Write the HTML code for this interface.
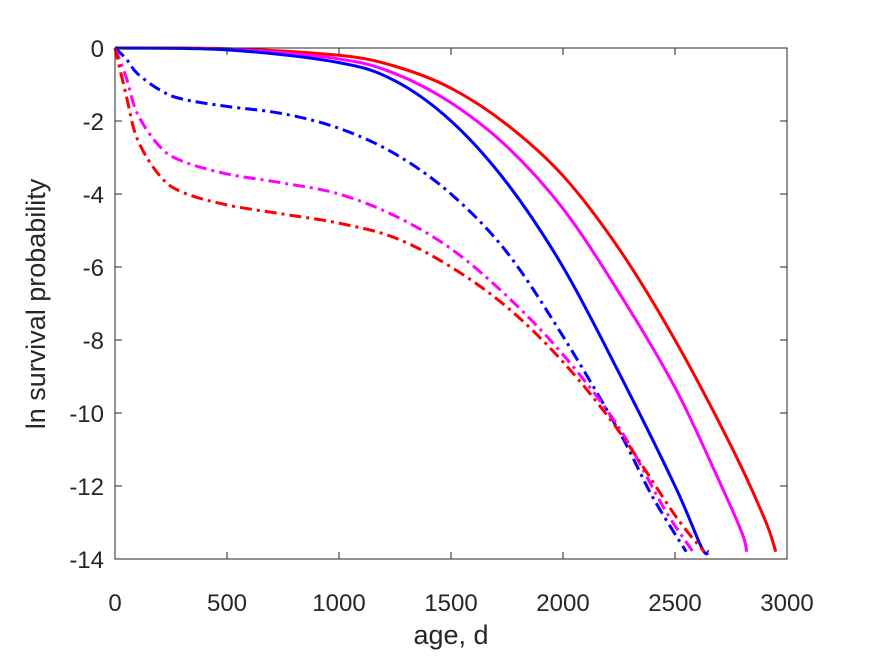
<!DOCTYPE html>
<html><head><meta charset="utf-8"><style>
body{margin:0;background:#fff;}
svg{font-family:"Liberation Sans",sans-serif;}
</style></head><body>
<svg id="chart" width="875" height="656">
<rect width="875" height="656" fill="#fff"/>
<g id="marks"></g>
<g id="axes"></g>
</svg>
<script>
const xTicks=[0,500,1000,1500,2000,2500,3000];
const yTicks=[0,-2,-4,-6,-8,-10,-12,-14];
const redSolidX=[0,500,1000,1250,1500,1750,2000,2250,2500,2750,2900,2950];
const redSolidY=[0,-0.02,-0.2,-0.5,-1.1,-2.1,-3.5,-5.5,-8.0,-10.9,-12.9,-13.8];
const magSolidX=[0,500,1000,1250,1500,1750,2000,2250,2500,2700,2800,2820];
const magSolidY=[0,-0.03,-0.3,-0.7,-1.5,-2.7,-4.4,-6.7,-9.3,-11.9,-13.3,-13.8];
const blueSolidX=[0,500,1000,1250,1500,1750,2000,2250,2500,2620,2650];
const blueSolidY=[0,-0.05,-0.4,-0.9,-2.0,-3.7,-6.0,-8.9,-12.0,-13.7,-13.8];
const blueDashX=[0,50,100,200,300,500,750,1000,1250,1500,1750,2000,2250,2400,2550];
const blueDashY=[0,-0.3,-0.7,-1.15,-1.4,-1.6,-1.8,-2.2,-2.9,-4.0,-5.6,-7.9,-10.5,-12.3,-13.8];
const magDashX=[0,50,100,200,300,500,750,1000,1250,1500,1750,2000,2250,2450,2580];
const magDashY=[0,-0.8,-1.8,-2.7,-3.1,-3.45,-3.7,-4.0,-4.6,-5.5,-6.8,-8.4,-10.4,-12.6,-13.8];
const redDashX=[0,50,100,200,300,500,750,1000,1250,1500,1750,2000,2250,2500,2630];
const redDashY=[0,-1.3,-2.5,-3.5,-3.95,-4.3,-4.55,-4.8,-5.2,-6.0,-7.1,-8.6,-10.5,-12.8,-13.8];

const L=115,R=787,T=48,B=559;
const sx=v=>L+(v-0)/(3000)*(R-L);
const sy=v=>T+(0-v)/14*(B-T);
const NS="http://www.w3.org/2000/svg";
const marks=document.getElementById('marks');
const axes=document.getElementById('axes');

function smooth(px,py){
  let d=`M${px[0]},${py[0]}`;
  for(let i=0;i<px.length-1;i++){
    const x0=px[i-1]??px[i],y0=py[i-1]??py[i];
    const x3=px[i+2]??px[i+1],y3=py[i+2]??py[i+1];
    const c1x=px[i]+(px[i+1]-x0)/6,c1y=py[i]+(py[i+1]-y0)/6;
    const c2x=px[i+1]-(x3-px[i])/6,c2y=py[i+1]-(y3-py[i])/6;
    d+=` C${c1x},${c1y} ${c2x},${c2y} ${px[i+1]},${py[i+1]}`;
  }
  return d;
}
function line(xs,ys,color,dash,name){
  const p=document.createElementNS(NS,'path');
  p.setAttribute('d',smooth(xs.map(sx),ys.map(sy)));
  p.setAttribute('fill','none');
  p.setAttribute('stroke',color);
  p.setAttribute('stroke-width','3');
  if(dash)p.setAttribute('stroke-dasharray','12,5,3,5');
  
  
  marks.appendChild(p);
}
line(redSolidX,redSolidY,'#ff0000',false,'red-solid-line');
line(magSolidX,magSolidY,'#ff00ff',false,'magenta-solid-line');
line(blueSolidX,blueSolidY,'#0000ff',false,'blue-solid-line');
line(blueDashX,blueDashY,'#0000ff',true,'blue-dashdot-line');
line(magDashX,magDashY,'#ff00ff',true,'magenta-dashdot-line');
line(redDashX,redDashY,'#ff0000',true,'red-dashdot-line');

const box=document.createElementNS(NS,'rect');
box.setAttribute('x',L);box.setAttribute('y',T);
box.setAttribute('width',R-L);box.setAttribute('height',B-T);
box.setAttribute('fill','none');box.setAttribute('stroke','#262626');


axes.appendChild(box);

xTicks.forEach(v=>{
  const x=sx(v);
  const t=document.createElementNS(NS,'path');
  t.setAttribute('d',`M${x},${B}V${B-7}M${x},${T}V${T+7}`);
  t.setAttribute('stroke','#262626');
  
  
  axes.appendChild(t);
  const tx=document.createElementNS(NS,'text');
  tx.setAttribute('x',x);tx.setAttribute('y',B+52);
  tx.setAttribute('text-anchor','middle');tx.setAttribute('font-size','24');
  tx.setAttribute('fill','#262626');
  
  
  tx.textContent=v;
  axes.appendChild(tx);
});
yTicks.forEach(v=>{
  const y=sy(v);
  const t=document.createElementNS(NS,'path');
  t.setAttribute('d',`M${L},${y}H${L+7}M${R},${y}H${R-7}`);
  t.setAttribute('stroke','#262626');
  
  
  axes.appendChild(t);
  const tx=document.createElementNS(NS,'text');
  tx.setAttribute('x',L-11);tx.setAttribute('y',y+9);
  tx.setAttribute('text-anchor','end');tx.setAttribute('font-size','24');
  tx.setAttribute('fill','#262626');
  
  
  tx.textContent=v;
  axes.appendChild(tx);
});
</script>
<svg style="position:absolute;left:0;top:0" width="875" height="656">
<text x="451" y="644" text-anchor="middle" font-size="27" fill="#262626" font-family="Liberation Sans, sans-serif">age, d</text>
<text x="0" y="0" transform="translate(45,304) rotate(-90)" text-anchor="middle" font-size="27" fill="#262626" font-family="Liberation Sans, sans-serif">ln survival probability</text>
</svg>
</body></html>
